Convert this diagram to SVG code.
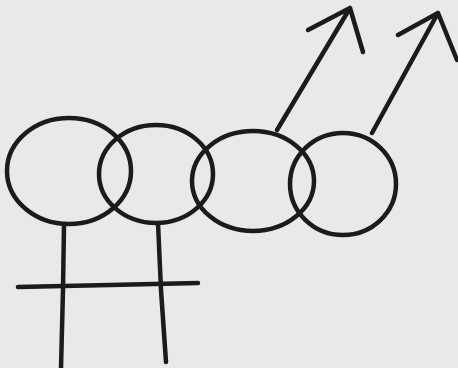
<svg xmlns="http://www.w3.org/2000/svg" width="458" height="368" viewBox="0 0 458 368">
<style>
.s{fill:none;stroke:#1b1b1b;stroke-width:4.5;stroke-linecap:round;stroke-linejoin:round}
</style>
<rect width="458" height="368" fill="#e9e9e9"/>
<g id="female1">
<ellipse class="s" cx="69" cy="171" rx="62" ry="53"/>
</g>
<g id="female2">
<ellipse class="s" cx="156" cy="174" rx="57" ry="49"/>
</g>
<g id="male1">
<ellipse class="s" cx="253" cy="181" rx="61" ry="50"/>
</g>
<g id="male2">
<ellipse class="s" cx="343" cy="184" rx="53" ry="51"/>
</g>
<g id="connectors">
<path class="s" d="M64 224 L63 290 L61 368"/>
<path class="s" d="M158 223 L161 290 L166 362"/>
<path class="s" d="M18 287 L110 285 L198 283"/>
<path class="s" d="M277 130 L350 8 M308 30 L350 8 L363 52"/>
<path class="s" d="M372 133 L438 13 M398 35 L438 13 L457 60"/>
</g>
</svg>
